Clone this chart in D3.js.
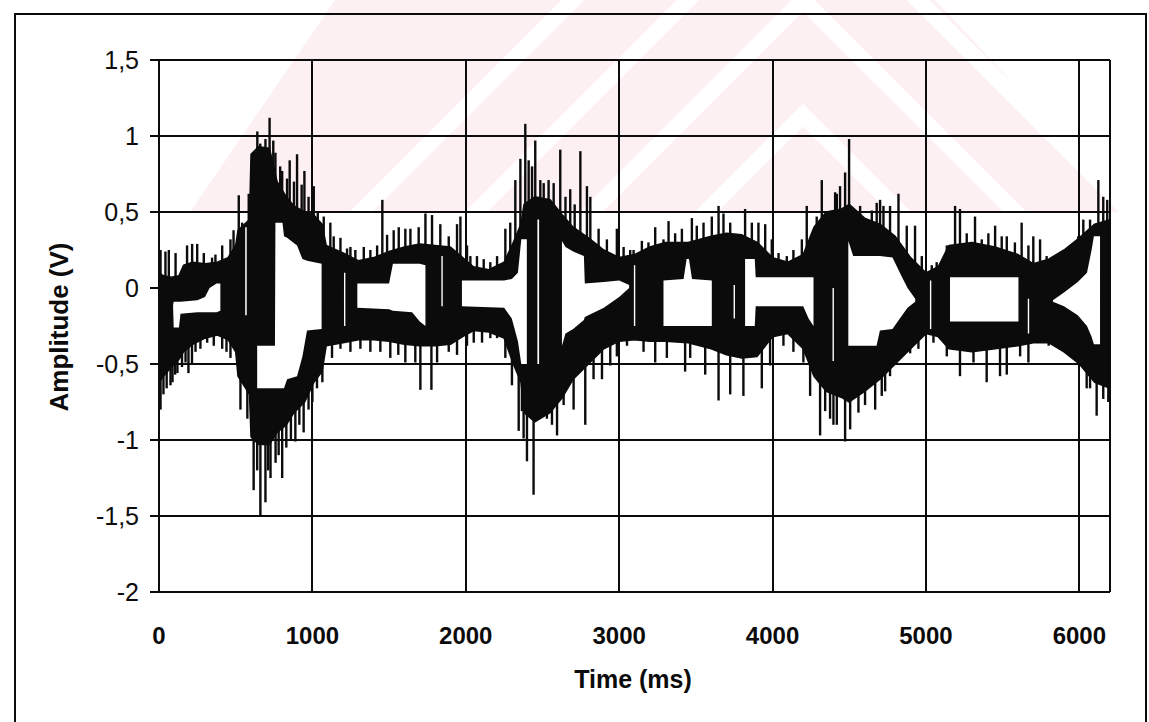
<!DOCTYPE html>
<html><head><meta charset="utf-8">
<script src="https://cdn.jsdelivr.net/npm/d3@7"></script>
<style>body{margin:0;background:#fff}svg{display:block}</style>
</head><body>
<svg id="c" width="1149" height="722"></svg>
<script>
// ---- data ----
const xTicks = [0, 1000, 2000, 3000, 4000, 5000, 6000];
const xTickLabels = ["0", "1000", "2000", "3000", "4000", "5000", "6000"];
const yTicks = [-2, -1.5, -1, -0.5, 0, 0.5, 1, 1.5];
const yTickLabels = ["-2", "-1,5", "-1", "-0,5", "0", "0,5", "1", "1,5"];

// dense body of the waveform: time (ms), upper and lower envelope (V)
const envT   = [0,30,80,130,160,220,300,380,450,500,515,590,600,650,720,770,830,880,950,1010,1063,1090,1200,1300,1400,1500,1600,1700,1800,1900,1980,2050,2150,2250,2310,2360,2380,2450,2550,2630,2700,2800,2900,3000,3100,3200,3300,3450,3600,3700,3800,3900,4000,4100,4200,4270,4350,4450,4500,4600,4700,4800,4900,5000,5080,5150,5300,5450,5600,5700,5800,5900,6000,6100,6200];
const envTop = [0.10,0.08,0.07,0.08,0.15,0.17,0.16,0.17,0.20,0.28,0.38,0.45,0.88,0.93,0.92,0.70,0.60,0.54,0.50,0.48,0.42,0.28,0.23,0.18,0.20,0.24,0.27,0.29,0.28,0.27,0.20,0.14,0.12,0.17,0.30,0.42,0.55,0.60,0.58,0.48,0.40,0.33,0.25,0.20,0.22,0.27,0.30,0.30,0.34,0.36,0.35,0.30,0.20,0.17,0.22,0.40,0.50,0.52,0.55,0.46,0.42,0.34,0.20,0.10,0.14,0.28,0.30,0.27,0.22,0.16,0.19,0.25,0.33,0.42,0.45];
const envBot = [-0.62,-0.58,-0.52,-0.47,-0.42,-0.37,-0.33,-0.31,-0.34,-0.42,-0.58,-0.70,-0.98,-1.03,-1.03,-0.95,-0.90,-0.82,-0.75,-0.62,-0.55,-0.38,-0.36,-0.34,-0.34,-0.35,-0.37,-0.38,-0.38,-0.37,-0.32,-0.28,-0.29,-0.33,-0.50,-0.62,-0.82,-0.88,-0.82,-0.72,-0.60,-0.50,-0.40,-0.35,-0.34,-0.35,-0.35,-0.36,-0.40,-0.44,-0.46,-0.45,-0.32,-0.30,-0.40,-0.58,-0.68,-0.72,-0.75,-0.68,-0.60,-0.50,-0.40,-0.30,-0.32,-0.40,-0.42,-0.40,-0.38,-0.36,-0.36,-0.42,-0.50,-0.62,-0.66];

// white gaps inside the body (null separates gaps)
const holeT   = [92,96,130,140,250,300,330,375,400,null, 562,572,null, 640,756,759,805,815,835,900,935,965,1060,null, 1206,1215,null, 1293,1500,1525,1650,1700,1737,null, 1841,1850,null, 1975,2250,2300,2340,2362,2398,null, 2467,2478,null, 2627,2650,2700,2770,2776,2900,3000,3065,null, 3096,3105,null, 3289,3420,3440,3455,3475,3604,null, 3746,3755,null, 3821,3884,3890,4200,4235,4267,null, 4391,4400,null, 4494,4526,4678,4700,4782,4830,4880,4930,null, 5026,5035,null, 5157,5603,null, 5664,5673,null, 5828,5900,5990,6050,6080,6095,6135];
const holeTop = [-0.11,-0.09,-0.09,-0.09,-0.08,-0.06,0.00,0.03,0.03,null, 0.40,0.40,null, -0.38,-0.38,0.43,0.43,0.34,0.33,0.28,0.19,0.18,0.16,null, 0.10,0.10,null, 0.03,0.03,0.16,0.16,0.16,0.15,null, 0.21,0.21,null, 0.05,0.05,0.06,0.10,0.32,0.32,null, 0.45,0.45,null, 0.31,0.27,0.24,0.21,0.03,0.04,0.05,0.02,null, 0.15,0.15,null, 0.05,0.06,0.19,0.19,0.06,0.05,null, 0.02,0.02,null, 0.19,0.19,0.07,0.07,0.07,0.07,null, 0.00,0.00,null, 0.31,0.21,0.21,0.21,0.20,0.10,0.00,-0.07,null, 0.05,0.05,null, 0.07,0.07,null, -0.07,-0.07,null, -0.08,-0.03,0.04,0.10,0.25,0.34,0.34];
const holeBot = [-0.13,-0.26,-0.26,-0.17,-0.16,-0.16,-0.16,-0.16,-0.15,null, -0.18,-0.18,null, -0.66,-0.66,-0.66,-0.66,-0.66,-0.60,-0.58,-0.45,-0.28,-0.27,null, -0.25,-0.25,null, -0.13,-0.14,-0.15,-0.16,-0.22,-0.25,null, -0.12,-0.12,null, -0.12,-0.13,-0.20,-0.35,-0.50,-0.50,null, -0.50,-0.50,null, -0.38,-0.30,-0.27,-0.21,-0.19,-0.13,-0.06,0.00,null, -0.25,-0.25,null, -0.25,-0.25,-0.25,-0.25,-0.25,-0.25,null, -0.20,-0.20,null, -0.25,-0.25,-0.12,-0.12,-0.20,-0.25,null, -0.48,-0.48,null, -0.38,-0.38,-0.38,-0.28,-0.27,-0.20,-0.13,-0.09,null, -0.27,-0.27,null, -0.22,-0.22,null, -0.30,-0.30,null, -0.09,-0.12,-0.18,-0.25,-0.32,-0.37,-0.37];

// individual peaks sticking out of the body
const upT = [10,42,64,108,183,216,249,292,346,368,412,466,486,520,542,585, 611,641,660,694,721,745,759,790,803,835,852,880,900,930,948,975,1009,1035, 1074,1117,1139,1183,1226,1248,1280,1335,1378,1422,1456,1487,1530,1563,1606,1639,1693,1737,1780,1834,1889,1943,1965,2008, 2030,2073,2117,2160,2204,2258,2290,2323, 2356,2388,2410,2432,2453,2486,2508,2540,2573,2616,2650,2681,2710,2747,2790,2812,2866,2920,2985,3029,3072, 3094,3148,3191,3235,3289,3322,3365,3409,3474,3506,3550,3604,3648,3680,3724,3821,3865,3908,3952,3995,4039,4093,4136,4191,4223, 4288,4321,4375,4408,4419,4440,4473,4499,4571,4647,4679,4701,4723,4766,4821,4875,4929,4973,5038,5070, 5136,5190,5222,5266,5320,5364,5407,5451,5494,5527,5580,5624,5668,5700,5744,5787, 5841,5885,5939,5993,6026,6070,6124,6156,6182];
const upV = [0.25,0.24,0.25,0.23,0.28,0.29,0.29,0.23,0.20,0.22,0.28,0.32,0.38,0.61,0.43,0.62, 0.70,1.03,0.95,0.98,1.12,0.97,0.89,0.80,0.77,0.72,0.84,0.70,0.88,0.68,0.77,0.60,0.67,0.50, 0.47,0.43,0.34,0.33,0.26,0.27,0.25,0.27,0.25,0.28,0.58,0.35,0.38,0.40,0.39,0.39,0.40,0.49,0.48,0.42,0.34,0.42,0.47,0.28, 0.21,0.21,0.19,0.17,0.21,0.39,0.43,0.71, 0.85,1.08,0.84,0.80,0.97,0.71,0.69,0.71,0.69,0.91,0.60,0.65,0.55,0.90,0.67,0.60,0.39,0.32,0.39,0.27,0.25, 0.25,0.31,0.30,0.40,0.32,0.44,0.36,0.39,0.46,0.41,0.43,0.47,0.54,0.49,0.43,0.52,0.43,0.43,0.42,0.32,0.23,0.21,0.25,0.32,0.54, 0.47,0.71,0.45,0.63,0.62,0.67,0.76,0.98,0.54,0.51,0.56,0.58,0.54,0.54,0.62,0.41,0.41,0.21,0.15,0.17, 0.28,0.54,0.52,0.36,0.47,0.32,0.36,0.41,0.34,0.34,0.30,0.43,0.28,0.34,0.32,0.21, 0.21,0.23,0.28,0.34,0.45,0.45,0.71,0.60,0.58];
const downT = [10,29,50,75,88,105,120,150,173,192,215,238,270,314,357,412,440,466,531,542,576, 617,640,661,694,712,727,760,780,803,830,860,889,915,943,975,1000,1030,1065, 1128,1183,1248,1313,1378,1443,1508,1560,1606,1671,1704,1776,1813,1889,1943, 2008,2052,2106,2160,2204,2258,2301,2345,2366, 2377,2399,2421,2442,2497,2529,2562,2595,2638,2703,2779,2833,2888,2942,2985,3051, 3159,3235,3311,3430,3463,3561,3648,3724,3810,3930,3984,4071,4136,4201,4245, 4310,4343,4375,4397,4419,4473,4506,4560,4603,4669,4712,4734,4766,4831,4897,4951,5049, 5136,5222,5310,5396,5483,5527,5614,5668,5744,5800, 5874,5940,6005,6048,6070,6113,6156,6189];
const downV = [-0.80,-0.70,-0.66,-0.64,-0.62,-0.57,-0.56,-0.52,-0.49,-0.56,-0.50,-0.42,-0.40,-0.36,-0.38,-0.40,-0.42,-0.46,-0.80,-0.62,-0.86, -1.33,-1.20,-1.50,-1.41,-1.20,-1.25,-1.15,-1.10,-1.25,-1.05,-1.00,-1.01,-0.90,-0.95,-0.80,-0.75,-0.66,-0.62, -0.46,-0.40,-0.42,-0.40,-0.42,-0.42,-0.46,-0.44,-0.49,-0.49,-0.67,-0.67,-0.49,-0.42,-0.44, -0.38,-0.36,-0.36,-0.33,-0.33,-0.46,-0.64,-0.94,-0.81, -0.99,-1.14,-0.81,-1.36,-0.81,-0.86,-0.90,-0.97,-0.77,-0.80,-0.90,-0.60,-0.60,-0.51,-0.45,-0.38, -0.42,-0.49,-0.46,-0.55,-0.46,-0.57,-0.74,-0.70,-0.71,-0.66,-0.51,-0.38,-0.42,-0.49,-0.71, -0.97,-0.81,-0.86,-0.90,-0.90,-1.01,-0.93,-0.82,-0.77,-0.80,-0.71,-0.68,-0.58,-0.45,-0.43,-0.40,-0.36, -0.45,-0.58,-0.49,-0.62,-0.58,-0.57,-0.45,-0.49,-0.34,-0.38, -0.40,-0.45,-0.48,-0.66,-0.66,-0.84,-0.73,-0.75];

// ---- drawing ----
const svg = d3.select("#c");
const x = d3.scaleLinear().domain([0, 6200]).range([159, 1110]);
const y = d3.scaleLinear().domain([-2, 1.5]).range([592, 60]);
const ink = "#0b0b0b";
const R = v => Math.round(v);

// faint pink watermark of the source document (decoration, behind the chart)
const clip = svg.append("defs").append("clipPath").attr("id", "wmclip");
clip.append("polygon").attr("points", "190,212 335,0 935,0 1134,212");
const wg = svg.append("g").attr("clip-path", "url(#wmclip)");
wg.append("rect").attr("x", 150).attr("y", 0).attr("width", 1000).attr("height", 212).attr("fill", "#fdf0f2");
[-345, -230, -115, 0, 115].forEach(a => {
  const ay = 115 + a;
  wg.append("path")
    .attr("d", `M${803 - (400 - ay)},400 L803,${ay} L${803 + (400 - ay)},400`)
    .attr("fill", "none").attr("stroke", "#fff").attr("stroke-width", 16);
});

// outer chart frame
svg.append("rect").attr("x", 15).attr("y", 14).attr("width", 1131).attr("height", 740)
  .attr("fill", "none").attr("stroke", ink).attr("stroke-width", 2);

// gridlines
const grid = svg.append("g").attr("stroke", ink).attr("stroke-width", 2);
grid.selectAll("line.h").data(yTicks).join("line").attr("class", "h")
  .attr("x1", x(0)).attr("x2", x(6200)).attr("y1", d => R(y(d))).attr("y2", d => R(y(d)));
grid.selectAll("line.v").data(xTicks).join("line").attr("class", "v")
  .attr("x1", d => R(x(d))).attr("x2", d => R(x(d))).attr("y1", y(-2)).attr("y2", y(1.5));

// spikes
const sp = svg.append("g").attr("stroke", ink).attr("stroke-width", 2.4);
sp.selectAll("line.u").data(upT).join("line").attr("class", "u")
  .attr("x1", d => x(d)).attr("x2", d => x(d)).attr("y1", y(0)).attr("y2", (d, i) => y(upV[i]));
sp.selectAll("line.d").data(downT).join("line").attr("class", "d")
  .attr("x1", d => x(d)).attr("x2", d => x(d)).attr("y1", y(0)).attr("y2", (d, i) => y(downV[i]));

// dense body
const body = d3.area().x(i => x(envT[i])).y0(i => y(envBot[i])).y1(i => y(envTop[i]));
svg.append("path").attr("d", body(d3.range(envT.length))).attr("fill", ink)
  .attr("stroke", ink).attr("stroke-width", 1.5).attr("stroke-linejoin", "round");

// white gaps
const hole = d3.area().defined(i => holeT[i] != null)
  .x(i => x(holeT[i])).y0(i => y(holeBot[i])).y1(i => y(holeTop[i]));
svg.append("path").attr("d", hole(d3.range(holeT.length))).attr("fill", "#fff");

// plot border lines on top
const bd = svg.append("g").attr("stroke", ink).attr("stroke-width", 2);
bd.append("line").attr("x1", R(x(0))).attr("x2", R(x(0))).attr("y1", y(-2)).attr("y2", y(1.5));
bd.append("line").attr("x1", R(x(6200))).attr("x2", R(x(6200))).attr("y1", y(-2)).attr("y2", y(1.5));
bd.append("line").attr("x1", x(0)).attr("x2", x(6200)).attr("y1", y(1.5)).attr("y2", y(1.5));
bd.append("line").attr("x1", x(0)).attr("x2", x(6200)).attr("y1", y(-2)).attr("y2", y(-2));
bd.selectAll("line.t").data(yTicks).join("line").attr("class", "t")
  .attr("x1", x(0) - 9).attr("x2", x(0)).attr("y1", d => R(y(d))).attr("y2", d => R(y(d)));

// tick labels
const font = "'Liberation Sans', Arial, sans-serif";
svg.append("g").selectAll("text").data(yTicks).join("text")
  .attr("x", 139).attr("y", d => y(d)).attr("dy", "0.36em").attr("text-anchor", "end")
  .attr("font-family", font).attr("font-size", 25).attr("fill", ink)
  .text((d, i) => yTickLabels[i]);
svg.append("g").selectAll("text").data(xTicks).join("text")
  .attr("x", d => x(d)).attr("y", 644).attr("text-anchor", "middle")
  .attr("font-family", font).attr("font-size", 24).attr("font-weight", "bold").attr("fill", ink)
  .text((d, i) => xTickLabels[i]);

// axis titles
svg.append("text").attr("x", 633).attr("y", 688).attr("text-anchor", "middle")
  .attr("font-family", font).attr("font-size", 25).attr("font-weight", "bold").attr("fill", ink)
  .text("Time (ms)");
svg.append("text").attr("transform", "translate(68,327) rotate(-90)").attr("text-anchor", "middle")
  .attr("font-family", font).attr("font-size", 26).attr("font-weight", "bold").attr("fill", ink)
  .text("Amplitude (V)");
</script>
</body></html>
